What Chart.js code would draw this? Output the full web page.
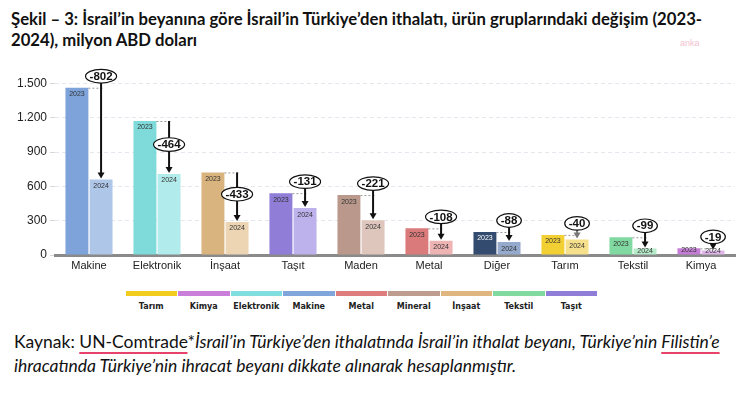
<!DOCTYPE html>
<html lang="tr">
<head>
<meta charset="utf-8">
<script src="https://cdn.jsdelivr.net/npm/chart.js@4/dist/chart.umd.min.js"></script>
<style>
  html, body { margin: 0; padding: 0; background: #fff; }
  #page { position: relative; width: 746px; height: 394px; overflow: hidden; font-family: Lato, "Open Sans", sans-serif; }
  #title { position: absolute; left: 11px; top: 9px; width: 735px; font-weight: bold; font-size: 16.7px; line-height: 21px; color: #111; white-space: nowrap; }
  #anka { position: absolute; left: 680px; top: 38px; font-family: "Liberation Sans", Arial, sans-serif; font-size: 9px; color: #f4c2d0; }
  #chartBox { position: absolute; left: 0; top: 60px; width: 746px; height: 215px; }
  #legend { position: absolute; left: 125px; top: 291px; display: flex; }
  .lg { width: 52.5px; text-align: center; font-family: "DejaVu Sans", sans-serif; font-weight: bold; font-size: 8px; color: #222; }
  .lg span { display: block; height: 5px; margin: 0 0.5px 6px 0.5px; }
  #note { position: absolute; left: 14px; top: 330px; width: 732px; font-size: 17.5px; line-height: 24px; color: #111; white-space: nowrap; }
  #note i { font-style: italic; }
  .sp { text-decoration: underline; text-decoration-color: #e8416b; text-decoration-thickness: 2px; text-underline-offset: 4px; }
</style>
</head>
<body>
<div id="page">
  <div id="title">Şekil – 3: İsrail’in beyanına göre İsrail’in Türkiye’den ithalatı, ürün gruplarındaki değişim (2023-<br>2024), milyon ABD doları</div>
  <div id="anka">anka</div>
  <div id="chartBox"><canvas id="c"></canvas></div>
  <div id="legend"></div>
  <div id="note">Kaynak: <span class="sp">UN-Comtrade</span>*<i>İsrail’in Türkiye’den ithalatında İsrail’in ithalat beyanı, Türkiye’nin <span class="sp">Filistin’e</span><br>ihracatında Türkiye’nin ihracat beyanı dikkate alınarak hesaplanmıştır.</i></div>
</div>
<script>
const categories = ['Makine', 'Elektronik', 'İnşaat', 'Taşıt', 'Maden', 'Metal', 'Diğer', 'Tarım', 'Tekstil', 'Kimya'];
const values2023 = [1463, 1172, 722, 541, 524, 233, 201, 176, 155, 58];
const values2024 = [661, 708, 289, 410, 303, 125, 113, 136, 56, 39];
const changes = [-802, -464, -433, -131, -221, -108, -88, -40, -99, -19];
const yTicks = [0, 300, 600, 900, 1200, 1500];

const legendLabels = ['Tarım', 'Kimya', 'Elektronik', 'Makine', 'Metal', 'Mineral', 'İnşaat', 'Tekstil', 'Taşıt'];
const legendColors = ['#F2CD1E', '#C97FDA', '#80DEDE', '#80A6DB', '#DE7D7D', '#BE9D8F', '#DFB67F', '#80DA9F', '#8F7DD7'];

// styling for the bars and the change markers
const colors2023 = ['#7DA3DA', '#7FDADA', '#DAB47F', '#8F7DD7', '#BA998C', '#DB7A7A', '#324B6E', '#F2CF33', '#80D9A1', '#C47CD6'];
const colors2024 = ['#AEC6E8', '#B2EBEB', '#EDD5B3', '#BDB2EC', '#DEC6BD', '#EEB3B3', '#94A9CC', '#F7E08C', '#B6EBCA', '#E0B6EA'];
const changeLabelPlace = ['above', 'mid', 'mid', 'above', 'above', 'above', 'above', 'above', 'above', 'above'];

// legend strip under the chart
const legendEl = document.getElementById('legend');
legendLabels.forEach((l, i) => {
  const d = document.createElement('div');
  d.className = 'lg';
  d.innerHTML = '<span style="background:' + legendColors[i] + '"></span>' + l;
  legendEl.appendChild(d);
});

function fmtTr(v) {
  return String(v).replace(/\B(?=(\d{3})+(?!\d))/g, '.');
}

// draws year labels inside bars, the dotted level line, the arrow and the change ellipse
const changeMarkers = {
  id: 'changeMarkers',
  afterDatasetsDraw(chart) {
    const ctx = chart.ctx;
    const m23 = chart.getDatasetMeta(0).data;
    const m24 = chart.getDatasetMeta(1).data;
    ctx.save();
    categories.forEach((c, i) => {
      const b1 = m23[i], b2 = m24[i];
      // year labels
      ctx.font = '7px "Liberation Sans", Arial, sans-serif';
      ctx.textAlign = 'center';
      ctx.textBaseline = 'middle';
      ctx.fillStyle = i === 6 ? '#fff' : '#333';
      ctx.fillText('2023', b1.x, Math.min(b1.y + 6.5, b1.base - 4));
      ctx.fillStyle = '#333';
      ctx.fillText('2024', b2.x, Math.min(b2.y + 6.5, b2.base - 3));

      // dotted line at 2023 level
      ctx.strokeStyle = '#9a9a9a';
      ctx.lineWidth = 1;
      ctx.setLineDash([2, 2]);
      ctx.beginPath();
      ctx.moveTo(b1.x + b1.width / 2, b1.y + 0.5);
      ctx.lineTo(b2.x + 2, b1.y + 0.5);
      ctx.stroke();
      ctx.setLineDash([]);

      // ellipse position
      const ey = changeLabelPlace[i] === 'mid' ? (b1.y + b2.y) / 2 - 3 : b1.y - 11.5;
      const start = changeLabelPlace[i] === 'mid' ? b1.y : Math.min(b1.y, ey + 6);

      // arrow
      const ac = i === 7 ? '#777' : '#111';
      ctx.strokeStyle = ac;
      ctx.fillStyle = ac;
      ctx.lineWidth = 2;
      ctx.beginPath();
      ctx.moveTo(b2.x, start);
      ctx.lineTo(b2.x, b2.y - 6);
      ctx.stroke();
      ctx.beginPath();
      ctx.moveTo(b2.x - 3.5, b2.y - 7);
      ctx.lineTo(b2.x + 3.5, b2.y - 7);
      ctx.lineTo(b2.x, b2.y - 1);
      ctx.closePath();
      ctx.fill();

      // change ellipse
      const txt = String(changes[i]);
      ctx.font = 'bold 11.5px "Liberation Sans", Arial, sans-serif';
      const tw = ctx.measureText(txt).width;
      ctx.beginPath();
      ctx.ellipse(b2.x, ey, tw / 2 + 4, 6.8, 0, 0, Math.PI * 2);
      ctx.fillStyle = '#fff';
      ctx.fill();
      ctx.strokeStyle = '#111';
      ctx.lineWidth = 1.2;
      ctx.stroke();
      ctx.fillStyle = '#111';
      ctx.fillText(txt, b2.x, ey + 0.5);
    });
    ctx.restore();
  }
};

new Chart(document.getElementById('c'), {
  type: 'bar',
  data: {
    labels: categories,
    datasets: [
      { label: '2023', data: values2023, backgroundColor: colors2023, categoryPercentage: 0.71, barPercentage: 0.95 },
      { label: '2024', data: values2024, backgroundColor: colors2024, categoryPercentage: 0.71, barPercentage: 0.95 }
    ]
  },
  options: {
    responsive: true,
    maintainAspectRatio: false,
    animation: false,
    layout: { padding: { top: 23.5, right: 11, left: 0, bottom: 0 } },
    plugins: { legend: { display: false }, tooltip: { enabled: false } },
    scales: {
      x: {
        grid: { display: false, drawTicks: false },
        border: { color: '#8a8a8a', width: 3 },
        ticks: { color: '#222', font: { family: '"Liberation Sans", Arial, sans-serif', size: 11 }, padding: 4 },
        afterFit(s) { s.height = 20; }
      },
      y: {
        min: 0,
        max: 1500,
        afterBuildTicks(s) { s.ticks = yTicks.map(v => ({ value: v })); },
        grid: { color: '#e6e6ee', tickColor: '#d8d8d8', tickLength: 5 },
        border: { display: false, dash: [4, 3] },
        ticks: {
          color: '#222',
          font: { family: '"Liberation Sans", Arial, sans-serif', size: 12 },
          padding: 3,
          callback: v => fmtTr(v)
        },
        afterFit(s) { s.width = 55; }
      }
    }
  },
  plugins: [changeMarkers]
});
</script>
</body>
</html>
